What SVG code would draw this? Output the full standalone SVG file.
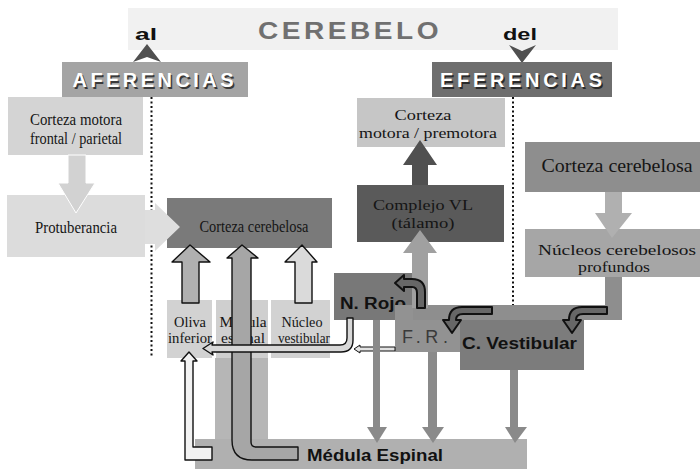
<svg xmlns="http://www.w3.org/2000/svg" width="700" height="469" viewBox="0 0 700 469">
<style>
.serif{font-family:"Liberation Serif","Times New Roman",serif;fill:#151515;text-anchor:middle}
.sans{font-family:"Liberation Sans",Arial,sans-serif;font-weight:bold;fill:#111}
.hdr{font-family:"Liberation Sans",Arial,sans-serif;font-weight:bold;font-size:20px;text-anchor:middle}
.dot{stroke:#111;stroke-width:2;stroke-dasharray:2 2.5;fill:none}
.ol{stroke:#111;stroke-width:1.4;stroke-linejoin:round}
.cv{fill:#676767;stroke:#111;stroke-width:2;stroke-linejoin:round}
.down{fill:#8a8a8a}
</style>
<rect width="700" height="469" fill="#fff"/>

<g id="title">
<rect x="128" y="8" width="490" height="42" fill="#f1f1f1"/>
<text x="350" y="39" font-family="Liberation Sans,Arial,sans-serif" font-weight="bold" font-size="24" letter-spacing="3" fill="#707070" text-anchor="middle" textLength="184" lengthAdjust="spacingAndGlyphs">CEREBELO</text>
<text x="135" y="40" class="sans" font-size="16" textLength="22" lengthAdjust="spacingAndGlyphs">al</text>
<text x="503" y="40" class="sans" font-size="17" textLength="34" lengthAdjust="spacingAndGlyphs">del</text>
<polygon points="147,44 161,62 147,57 133,62" fill="#505050"/>
<polygon points="509,45 522,51 536,45 522,63" fill="#505050"/>
</g>

<g id="aferencias">
<rect x="62" y="62" width="186" height="35" fill="#a4a4a4"/>
<text x="154.5" y="88.5" class="hdr" fill="#3a3a3a" textLength="161" lengthAdjust="spacing">AFERENCIAS</text>
<text x="153" y="87" class="hdr" fill="#fff" textLength="161" lengthAdjust="spacing">AFERENCIAS</text>
</g>
<g id="eferencias">
<rect x="432" y="62" width="180" height="35" fill="#6e6e6e"/>
<text x="522.5" y="88.5" class="hdr" fill="#2a2a2a" textLength="162" lengthAdjust="spacing">EFERENCIAS</text>
<text x="521" y="87" class="hdr" fill="#fff" textLength="162" lengthAdjust="spacing">EFERENCIAS</text>
</g>

<g id="dividers">
<line x1="151.5" y1="97" x2="151.5" y2="358" class="dot"/>
<line x1="513" y1="97" x2="513" y2="310" class="dot"/>
</g>

<g id="corteza-motora-frontal">
<rect x="8" y="97" width="135" height="58" fill="#d4d4d4"/>
<text x="76" y="125" class="serif" font-size="16" textLength="92" lengthAdjust="spacingAndGlyphs">Corteza motora</text>
<text x="76" y="144" class="serif" font-size="16" textLength="92" lengthAdjust="spacingAndGlyphs">frontal / parietal</text>
</g>
<g id="protuberancia">
<rect x="7" y="195" width="138" height="62" fill="#dcdcdc"/>
<text x="76" y="233" class="serif" font-size="17" textLength="82" lengthAdjust="spacingAndGlyphs">Protuberancia</text>
</g>
<g id="corteza-cerebelosa-aferente">
<rect x="167" y="198" width="165" height="50" fill="#7a7a7a"/>
<text x="254" y="232" class="serif" font-size="17" textLength="109" lengthAdjust="spacingAndGlyphs">Corteza cerebelosa</text>
</g>
<g id="oliva-inferior">
<rect x="167" y="300" width="45" height="58" fill="#d2d2d2"/>
<text x="190" y="327" class="serif" font-size="15" textLength="32" lengthAdjust="spacingAndGlyphs">Oliva</text>
<text x="190" y="343" class="serif" font-size="15" textLength="44" lengthAdjust="spacingAndGlyphs">inferior</text>
</g>
<g id="medula-espinal-box">
<rect x="216" y="300" width="52" height="58" fill="#cfcfcf"/>
<rect x="215" y="358" width="53" height="82" fill="#b6b6b6"/>
<text x="243" y="327" class="serif" font-size="15" textLength="47" lengthAdjust="spacingAndGlyphs">Médula</text>
<text x="243" y="343" class="serif" font-size="15" textLength="44" lengthAdjust="spacingAndGlyphs">espinal</text>
</g>
<g id="nucleo-vestibular">
<rect x="271" y="300" width="59" height="58" fill="#d2d2d2"/>
<text x="302" y="327" class="serif" font-size="15" textLength="41" lengthAdjust="spacingAndGlyphs">Núcleo</text>
<text x="304" y="343" class="serif" font-size="15" textLength="52" lengthAdjust="spacingAndGlyphs">vestibular</text>
</g>

<g id="corteza-motora-premotora">
<rect x="357" y="98" width="148" height="49" fill="#c6c6c6"/>
<text x="423" y="120" class="serif" font-size="15" textLength="57" lengthAdjust="spacingAndGlyphs">Corteza</text>
<text x="428" y="138" class="serif" font-size="15" textLength="138" lengthAdjust="spacingAndGlyphs">motora / premotora</text>
</g>
<g id="complejo-vl">
<rect x="357" y="185" width="147" height="57" fill="#5a5a5a"/>
<text x="423" y="210" class="serif" font-size="15" textLength="100" lengthAdjust="spacingAndGlyphs">Complejo VL</text>
<text x="423" y="228" class="serif" font-size="15" textLength="63" lengthAdjust="spacingAndGlyphs">(tálamo)</text>
</g>
<g id="corteza-cerebelosa-eferente">
<rect x="525" y="142" width="175" height="50" fill="#8e8e8e"/>
<text x="617" y="172" class="serif" font-size="18" textLength="151" lengthAdjust="spacingAndGlyphs">Corteza cerebelosa</text>
</g>
<g id="nucleos-profundos">
<rect x="525" y="229" width="175" height="48" fill="#a6a6a6"/>
<text x="617" y="255" class="serif" font-size="15" textLength="158" lengthAdjust="spacingAndGlyphs">Núcleos cerebelosos</text>
<text x="614" y="272" class="serif" font-size="15" textLength="72" lengthAdjust="spacingAndGlyphs">profundos</text>
</g>
<g id="n-rojo">
<rect x="334" y="273" width="80" height="47" fill="#787878"/>
<text x="340" y="309" class="sans" font-size="16" textLength="66" lengthAdjust="spacingAndGlyphs">N. Rojo</text>
</g>
<g id="fr">
<rect x="395" y="305" width="70" height="47" fill="#929292"/>
<text x="402" y="343" font-family="Liberation Sans,Arial,sans-serif" font-size="18" fill="#3a3a3a" textLength="46" lengthAdjust="spacing">F.R.</text>
</g>
<g id="c-vestibular">
<rect x="460" y="318" width="124" height="52" fill="#7c7c7c"/>
<text x="462" y="349" class="sans" font-size="16" textLength="115" lengthAdjust="spacingAndGlyphs">C. Vestibular</text>
</g>
<g id="medula-espinal">
<rect x="195" y="439" width="332" height="30" fill="#b0b0b0"/>
<text x="307" y="461" class="sans" font-size="17" textLength="136" lengthAdjust="spacingAndGlyphs">Médula Espinal</text>
</g>

<g id="connectors">
<path d="M68,155 H86 V183 H95 L76,213 L58,183 H68 Z" fill="#d2d2d2" stroke="#fff" stroke-width="1"/>
<polygon points="145,210 155,210 155,203 180,227 155,251 155,244 145,244" fill="#dedede"/>
<path d="M190,245 L210,262 H199 V303 H182 V262 H172 Z" fill="#b0b0b0" class="ol"/>
<path d="M302,245 L317,262 H312 V303 H295 V262 H285 Z" fill="#dadada" class="ol"/>
<path d="M242,245 L258,258 H251 V442 Q251,447 256,447 H298 V460 H252 Q232,460 232,440 V258 H227 Z" fill="#a6a6a6" class="ol"/>
<path d="M189,352 L197,361 H193 V447 H212 V460 H185 V361 H181 Z" fill="#f2f2f2" class="ol"/>
<path d="M347,318 H353 V340 Q353,352 341,352 H212 L213,355 L203,348.5 L213,342 L212,345 H340 Q347,345 347,338 Z" fill="#d8d8d8" class="ol"/>
<path d="M395,347 H360 V345 L354,349 L360,353 V351 H395 Z" fill="#e2e2e2" stroke="#111" stroke-width="1"/>
<path d="M412,165 H403 L420,140 L437,165 H428 V185 H412 Z" fill="#505050"/>
<path d="M605,192 H622 V213 H632 L612,238 L595,213 H605 Z" fill="#b0b0b0"/>
<path d="M605,277 H622 V320 H413 V305 H605 Z" fill="#8e8e8e"/>
<path d="M420,230 L437,253 H428 V308 H412 V253 H403 Z" fill="#a0a0a0"/>
<path d="M607,307 H582 Q569,307 569,320 H563 L572,333 L581,320 H576 Q576,314 583,314 H607 Z" class="cv"/>
<path d="M492,307 H462 Q449,307 449,320 H443 L452,333 L461,320 H456 Q456,314 463,314 H492 Z" class="cv"/>
<path d="M425,308 V292 Q425,279 412,279 H404 V275 L395,283 L404,291 V287 H412 Q417,287 417,293 V308 Z" class="cv"/>
<path d="M373,320 H380 V427 H387 L377,443 L367,427 H373 Z" class="down"/>
<path d="M428,352 H437 V427 H444 L433,443 L422,427 H428 Z" class="down"/>
<path d="M510,370 H518 V427 H527 L515,443 L505,427 H510 Z" class="down"/>
</g>
</svg>
